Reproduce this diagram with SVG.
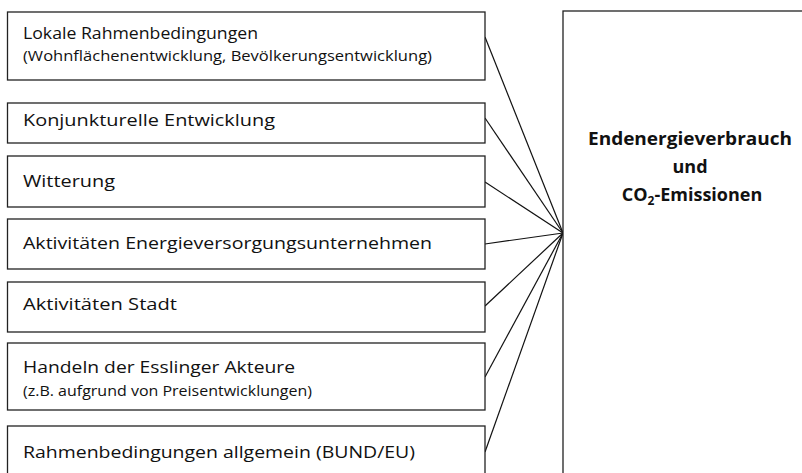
<svg xmlns="http://www.w3.org/2000/svg" width="802" height="473" viewBox="0 0 802 473">
<style>
.box{fill:#fff;stroke:#222;stroke-width:1.3}
.t{font-family:"Open Sans","Liberation Sans",sans-serif;font-size:17px;fill:#111}
.s{font-family:"Open Sans","Liberation Sans",sans-serif;font-size:14px;fill:#111}
.b{font-family:"Open Sans","Liberation Sans",sans-serif;font-size:18px;font-weight:bold;fill:#111;text-anchor:middle}
.c{stroke:#111;stroke-width:1.2;fill:none}
</style>
<rect width="802" height="473" fill="#fff"/>
<g id="connectors">
<line class="c" x1="485" y1="37" x2="563" y2="233"/>
<line class="c" x1="485" y1="118" x2="563" y2="233"/>
<line class="c" x1="485" y1="182" x2="563" y2="233"/>
<line class="c" x1="485" y1="244" x2="563" y2="233"/>
<line class="c" x1="485" y1="306" x2="563" y2="233"/>
<line class="c" x1="485" y1="377" x2="563" y2="233"/>
<line class="c" x1="485" y1="452" x2="563" y2="233"/>
</g>
<g id="n1"><rect class="box" x="7.5" y="12" width="477.5" height="68"/><text class="t" x="23" y="38.5" textLength="235" lengthAdjust="spacingAndGlyphs">Lokale Rahmenbedingungen</text><text class="s" x="23" y="60.5" textLength="409" lengthAdjust="spacingAndGlyphs">(Wohnflächenentwicklung, Bevölkerungsentwicklung)</text></g>
<g id="n2"><rect class="box" x="7.5" y="103" width="477.5" height="40"/><text class="t" x="23" y="126" textLength="252" lengthAdjust="spacingAndGlyphs">Konjunkturelle Entwicklung</text></g>
<g id="n3"><rect class="box" x="7.5" y="156" width="477.5" height="51"/><text class="t" x="23" y="187" textLength="92" lengthAdjust="spacingAndGlyphs">Witterung</text></g>
<g id="n4"><rect class="box" x="7.5" y="219" width="477.5" height="50"/><text class="t" x="23" y="249" textLength="409" lengthAdjust="spacingAndGlyphs">Aktivitäten Energieversorgungsunternehmen</text></g>
<g id="n5"><rect class="box" x="7.5" y="282" width="477.5" height="50"/><text class="t" x="23" y="310" textLength="154" lengthAdjust="spacingAndGlyphs">Aktivitäten Stadt</text></g>
<g id="n6"><rect class="box" x="7.5" y="343" width="477.5" height="67"/><text class="t" x="23" y="373" textLength="272" lengthAdjust="spacingAndGlyphs">Handeln der Esslinger Akteure</text><text class="s" x="23" y="396" textLength="289" lengthAdjust="spacingAndGlyphs">(z.B. aufgrund von Preisentwicklungen)</text></g>
<g id="n7"><rect class="box" x="7.5" y="426" width="477.5" height="60"/><text class="t" x="23" y="457.5" textLength="392" lengthAdjust="spacingAndGlyphs">Rahmenbedingungen allgemein (BUND/EU)</text></g>
<g id="n8"><rect class="box" x="563" y="11" width="260" height="480"/><text class="b" x="690" y="145" textLength="204" lengthAdjust="spacingAndGlyphs">Endenergieverbrauch</text><text class="b" x="690" y="173">und</text><text class="b" x="692" y="201">CO<tspan font-size="12" dy="4">2</tspan><tspan dy="-4">-Emissionen</tspan></text></g>
</svg>
